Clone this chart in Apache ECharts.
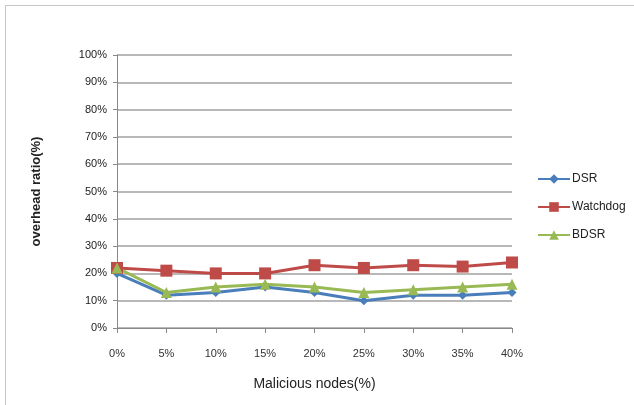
<!DOCTYPE html>
<html><head><meta charset="utf-8">
<script src="https://cdn.jsdelivr.net/npm/echarts@6/dist/echarts.min.js"></script>
<style>
html,body{margin:0;padding:0;background:#fff;}
#frame{position:absolute;left:5px;top:5px;width:640px;height:410px;border:1px solid #c8c8c8;box-sizing:border-box;}
#c{position:absolute;left:0;top:0;width:634px;height:405px;}
</style></head><body>
<div id="frame"></div>
<div id="c"></div>
<script>
const categories = ['0%','5%','10%','15%','20%','25%','30%','35%','40%'];
const dsr = [20, 12, 13, 15, 13, 10, 12, 12, 13];
const watchdog = [22, 21, 20, 20, 23, 22, 23, 22.5, 24];
const bdsr = [22, 13, 15, 16, 15, 13, 14, 15, 16];
const yTicks = [0,10,20,30,40,50,60,70,80,90,100];

const chart = echarts.init(document.getElementById('c'));
const font = '"Liberation Sans Narrow", "Liberation Sans", sans-serif';
function s(name, data, color, symbol, size){
  return {name, type:'line', data, symbol, symbolSize:size,
    lineStyle:{color, width:3}, itemStyle:{color}, z: 3};
}
chart.setOption({
  animation:false,
  grid:{left:117, right:122, top:55, bottom:77},
  legend:{orient:'vertical', left:532, top:168, itemGap:16, itemWidth:32, itemHeight:12,
    textStyle:{fontFamily:font, fontSize:12, color:'#222', padding:[0,0,0,-3]},
    data:['DSR','Watchdog','BDSR']},
  xAxis:{type:'category', data:categories, boundaryGap:false,
    name:'Malicious nodes(%)', nameLocation:'middle', nameGap:49,
    nameTextStyle:{fontFamily:font, fontSize:14, color:'#222'},
    axisLine:{lineStyle:{color:'#888'}},
    axisTick:{show:true, alignWithLabel:true, length:5, lineStyle:{color:'#888'}},
    axisLabel:{fontFamily:font, fontSize:11, color:'#333', margin:20}},
  yAxis:{type:'value', min:0, max:100, interval:10,
    name:'overhead ratio(%)', nameLocation:'middle', nameGap:74,
    nameTextStyle:{fontFamily:font, fontSize:13, fontWeight:'bold', color:'#222'},
    axisLine:{show:true, lineStyle:{color:'#888'}},
    axisTick:{show:true, length:4, lineStyle:{color:'#888'}},
    splitLine:{lineStyle:{color:'#a0a0a0', width:1.5}},
    axisLabel:{fontFamily:font, fontSize:11, color:'#222', margin:10, formatter:v=>v+'%'}},
  series:[
    s('DSR', dsr, '#4a7ebb', 'diamond', 9),
    s('Watchdog', watchdog, '#be4b48', 'rect', 12),
    s('BDSR', bdsr, '#98b954', 'triangle', 11)
  ]
});
</script>
</body></html>
